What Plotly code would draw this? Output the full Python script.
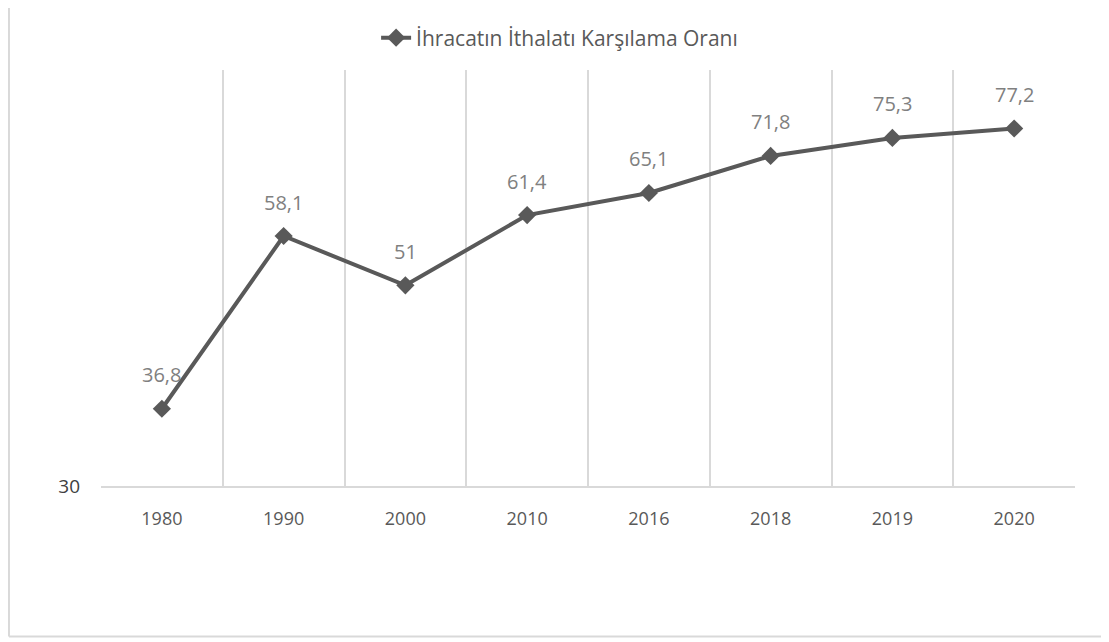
import plotly.graph_objects as go
import math

years = ["1980", "1990", "2000", "2010", "2016", "2018", "2019", "2020"]
values = [36.8, 58.1, 51, 61.4, 65.1, 71.8, 75.3, 77.2]
value_labels = ["36,8", "58,1", "51", "61,4", "65,1", "71,8", "75,3", "77,2"]
series_name = "İhracatın İthalatı Karşılama Oranı"
y_min, y_max = 30, 90

FONT = "Open Sans"
LINE_COLOR = "#595959"

fig = go.Figure()
fig.add_trace(go.Scatter(
    x=years, y=values, mode="lines+markers", name=series_name,
    line=dict(color=LINE_COLOR, width=4),
    marker=dict(symbol="diamond", size=14, color=LINE_COLOR),
    showlegend=True,
))

for i, (v, lab) in enumerate(zip(values, value_labels)):
    fig.add_annotation(x=i, y=math.log10(v), xref="x", yref="y", text=lab,
                       showarrow=False, yshift=34,
                       font=dict(family=FONT, size=20, color="#808080"))

border = "#d9d9d9"
# outer chart border (left, right, bottom)
fig.add_shape(type="line", xref="paper", yref="paper", x0=-0.0945, x1=-0.0945, y0=-0.362, y1=1.2,
              line=dict(color=border, width=2))
fig.add_shape(type="line", xref="paper", yref="paper", x0=1.0308, x1=1.0308, y0=-0.362, y1=1.2,
              line=dict(color=border, width=2))
fig.add_shape(type="line", xref="paper", yref="paper", x0=-0.0945, x1=1.0308, y0=-0.362, y1=-0.362,
              line=dict(color=border, width=2))

fig.update_layout(
    width=1101, height=634,
    margin=dict(l=93, r=34, t=58, b=156),
    paper_bgcolor="white", plot_bgcolor="white",
    font=dict(family=FONT, color="#595959"),
    legend=dict(orientation="h", xref="container", yref="container",
                x=0.501, xanchor="center", y=0.9527, yanchor="middle",
                font=dict(family=FONT, size=21, color="#595959"),
                bgcolor="rgba(0,0,0,0)"),
    xaxis=dict(type="category", range=[-0.5, len(years) - 0.5],
               tickson="boundaries", showgrid=True, gridcolor=border, gridwidth=1.5,
               showline=True, linecolor=border, linewidth=1.5, mirror=False,
               ticks="", ticklabelstandoff=16,
               tickfont=dict(family=FONT, size=18, color="#595959"),
               zeroline=False),
    yaxis=dict(type="log", range=[math.log10(y_min), math.log10(y_max)],
               showgrid=False, showline=False, zeroline=False,
               tickvals=[y_min], ticktext=[str(y_min)], ticks="",
               ticklabelstandoff=20,
               tickfont=dict(family=FONT, size=19, color="#404040")),
)

fig.write_html("out.html")
